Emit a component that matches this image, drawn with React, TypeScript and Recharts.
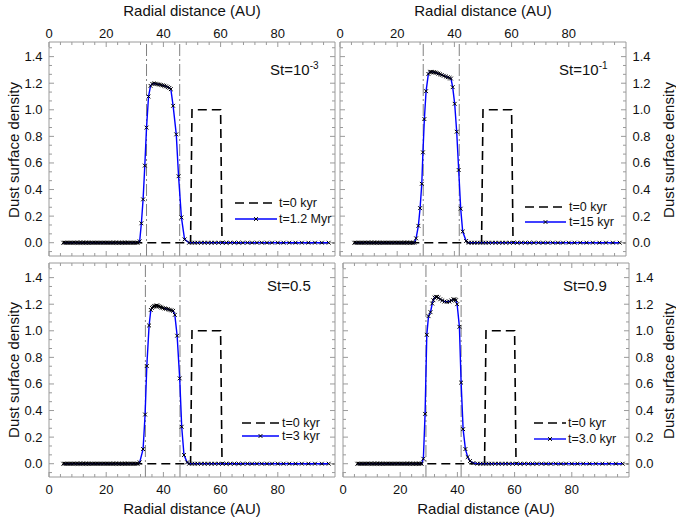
import React from "react";
import { Line, LineChart, ReferenceLine, XAxis, YAxis } from "recharts";

/* -------------------------------------------------------------------------- */
/*  Data                                                                       */
/* -------------------------------------------------------------------------- */

const xMajorTicks = [0, 20, 40, 60, 80];
const yMajorTicks = [0, 0.2, 0.4, 0.6, 0.8, 1.0, 1.2, 1.4];

// radial sample positions (AU) where the evolved profile sits on the floor
const innerRadii = [
  5, 5.5, 6, 6.5, 7, 7.5, 8, 8.5, 9, 9.5, 10, 10.5, 11, 11.5, 12, 12.5, 13,
  13.5, 14, 14.5, 15, 15.5, 16, 16.5, 17, 17.5, 18, 18.5, 19, 19.5, 20, 20.5,
  21, 21.5, 22, 22.5, 23, 23.5, 24, 24.5, 25, 25.5, 26, 26.5, 27, 27.5, 28,
  28.5, 29, 29.5, 30, 30.5, 31,
];
const outerRadii = [
  45, 46, 47, 48, 49, 50, 51, 52, 53.2, 54.4, 55.6, 56.8, 58, 59.3, 60.6, 62,
  63.4, 64.8, 66.3, 67.8, 69.4, 71, 72.7, 74.4, 76.2, 78, 80, 82, 84, 86.2,
  88.4, 90.7, 93, 95.4, 97.8,
];

// t = 0 ring (same in every panel)
const initialRing: [number, number][] = [
  [5, 0], [49.5, 0], [50, 1], [60, 1], [60.5, 0], [100, 0],
];

// evolved rings [r, sigma]
const profileSt1e3: [number, number][] = [
  [31.7, 0.01], [32.3, 0.146], [32.9, 0.326], [33.5, 0.58], [34.1, 0.866],
  [34.8, 1.1], [35.5, 1.18], [36.1, 1.195], [36.7, 1.198], [37.3, 1.196],
  [37.9, 1.193], [38.5, 1.19], [39.1, 1.187], [39.7, 1.184], [40.3, 1.18],
  [40.9, 1.176], [41.5, 1.17], [42.1, 1.165], [42.6, 1.155], [43.4, 1.03],
  [44.5, 0.815], [45.3, 0.5], [46.3, 0.19], [47.4, 0.025],
];
const profileSt1e1: [number, number][] = [
  [26.6, 0.033], [27.4, 0.127], [28.0, 0.26], [28.6, 0.443], [29.0, 0.68],
  [29.5, 0.93], [30.1, 1.14], [30.9, 1.27], [31.4, 1.283], [31.8, 1.286],
  [32.3, 1.285], [32.8, 1.283], [33.3, 1.28], [33.8, 1.277], [34.4, 1.272],
  [35.0, 1.267], [35.6, 1.262], [36.3, 1.256], [37.0, 1.25], [37.7, 1.245],
  [38.3, 1.24], [38.8, 1.235], [39.4, 1.17], [40.1, 1.045], [40.8, 0.835],
  [41.5, 0.547], [42.2, 0.256], [42.9, 0.084], [44.1, 0.013],
];
const profileSt05: [number, number][] = [
  [31.7, 0.01], [32.9, 0.11], [33.6, 0.37], [34.2, 0.735], [35.0, 1.04],
  [35.6, 1.157], [36.0, 1.172], [36.4, 1.18], [36.8, 1.185], [37.2, 1.188],
  [37.6, 1.19], [38.0, 1.188], [38.4, 1.184], [38.8, 1.18], [39.3, 1.176],
  [39.8, 1.172], [40.4, 1.168], [41.0, 1.165], [41.6, 1.162], [42.2, 1.158],
  [42.8, 1.154], [43.4, 1.15], [44.0, 1.12], [44.8, 0.963], [45.7, 0.642],
  [46.4, 0.278], [47.2, 0.065], [48.3, 0.01],
];
const profileSt09: [number, number][] = [
  [28.1, 0.037], [28.7, 0.375], [29.3, 0.97], [29.9, 1.11], [30.6, 1.14],
  [31.2, 1.205], [31.6, 1.23], [32.0, 1.25], [32.5, 1.256], [32.9, 1.255],
  [33.4, 1.248], [34.0, 1.237], [34.7, 1.228], [35.5, 1.22], [36.3, 1.218],
  [37.2, 1.22], [37.9, 1.228], [38.6, 1.237], [39.1, 1.236], [39.5, 1.23],
  [39.9, 1.2], [40.7, 1.03], [41.3, 0.61], [42.0, 0.26], [42.8, 0.11],
  [43.6, 0.05], [44.4, 0.02], [45.6, 0.005],
];

// dash-dot guides marking the ring edges
const edgesSt1e3 = [34.1, 45.7];
const edgesSt1e1 = [29.1, 41.7];
const edgesSt05 = [33.7, 45.8];
const edgesSt09 = [29.0, 41.3];

/* -------------------------------------------------------------------------- */
/*  Helpers                                                                    */
/* -------------------------------------------------------------------------- */

const FONT = '"Liberation Sans", Arial, sans-serif';
const FRAME = "#9a9a9a";
const PLOT_W = 286;
const PLOT_H = 214;
const PAD = 30;
const Y_DOMAIN: [number, number] = [-0.1, 1.51];

const xTicks: number[] = [];
for (let v = 0; v <= 96; v += 4) xTicks.push(v);
const yTicks: number[] = [];
for (let k = -1; k <= 22; k++) yTicks.push(k / 15);

const isMajorY = (v: number) => Math.abs(v * 5 - Math.round(v * 5)) < 1e-6;

function buildSeries(profile: [number, number][], xMax: number) {
  const first = profile[0][0];
  const last = profile[profile.length - 1][0];
  return [
    ...innerRadii.filter((r) => r < first - 0.4).map((r) => ({ x: r, y: 0 })),
    ...profile.map(([x, y]) => ({ x, y })),
    ...outerRadii.filter((r) => r > last + 0.6 && r <= xMax).map((r) => ({ x: r, y: 0 })),
  ];
}

const ringData = initialRing.map(([x, y]) => ({ x, y }));

type Side = "top" | "bottom" | "left" | "right";

function makeTick(side: Side, showLabel: boolean) {
  return (props: any) => {
    const { x, y, payload, index } = props;
    const v = payload.value as number;
    const horizontal = side === "top" || side === "bottom";
    const major = horizontal ? xMajorTicks.includes(v) : isMajorY(v);
    const len = major ? 5 : 3;
    let l = [x, y, x, y];
    let label: React.ReactNode = null;
    const txt = horizontal ? String(v) : v.toFixed(1);
    const tp = { fontSize: 13, fontFamily: FONT, fill: "#111" };
    if (side === "bottom") {
      l = [x, y, x, y - len];
      label = <text x={x} y={y + 16.5} textAnchor="middle" {...tp}>{txt}</text>;
    } else if (side === "top") {
      l = [x, y, x, y + len];
      label = <text x={x} y={y - 4.5} textAnchor="middle" {...tp}>{txt}</text>;
    } else if (side === "left") {
      l = [x, y, x + len, y];
      label = <text x={x - 6.5} y={y + 4.5} textAnchor="end" {...tp}>{txt}</text>;
    } else {
      l = [x, y, x - len, y];
      label = <text x={x + 6.5} y={y + 4.5} textAnchor="start" {...tp}>{txt}</text>;
    }
    const showText = showLabel && (horizontal ? xMajorTicks.includes(v) : major && v > -0.01);
    return (
      <g key={`${side}-${index}`}>
        <line x1={l[0]} y1={l[1]} x2={l[2]} y2={l[3]} stroke={FRAME} strokeWidth={1} />
        {showText && label}
      </g>
    );
  };
}

const renderCross = (props: any) => {
  const { cx, cy, index } = props;
  if (cx == null || cy == null) return <g key={index} />;
  const s = 1.9;
  return (
    <path
      key={index}
      d={`M${cx - s},${cy - s}L${cx + s},${cy + s}M${cx - s},${cy + s}L${cx + s},${cy - s}`}
      stroke="#000"
      strokeWidth={1}
      fill="none"
    />
  );
};

/* -------------------------------------------------------------------------- */
/*  Panel                                                                      */
/* -------------------------------------------------------------------------- */

interface PanelProps {
  left: number;
  top: number;
  domain: [number, number];
  profile: [number, number][];
  edges: number[];
  topLabels: boolean;
  bottomLabels: boolean;
  leftLabels: boolean;
  rightLabels: boolean;
}

function Panel(p: PanelProps) {
  const series = buildSeries(p.profile, p.domain[1]);
  const axisLine = { stroke: FRAME, strokeWidth: 1 };
  return (
    <div style={{ position: "absolute", left: p.left - PAD, top: p.top - PAD }}>
      <LineChart
        width={PLOT_W + 2 * PAD}
        height={PLOT_H + 2 * PAD}
        margin={{ top: 0, right: 0, bottom: 0, left: 0 }}
      >
        <XAxis
          xAxisId="b"
          orientation="bottom"
          type="number"
          dataKey="x"
          domain={p.domain}
          allowDataOverflow
          ticks={xTicks}
          interval={0}
          height={PAD}
          tickSize={0}
          tickMargin={0}
          axisLine={axisLine}
          tickLine={false}
          tick={makeTick("bottom", p.bottomLabels)}
        />
        <XAxis
          xAxisId="t"
          orientation="top"
          type="number"
          dataKey="x"
          domain={p.domain}
          allowDataOverflow
          ticks={xTicks}
          interval={0}
          height={PAD}
          tickSize={0}
          tickMargin={0}
          axisLine={axisLine}
          tickLine={false}
          tick={makeTick("top", p.topLabels)}
        />
        <YAxis
          yAxisId="l"
          orientation="left"
          type="number"
          domain={Y_DOMAIN}
          allowDataOverflow
          ticks={yTicks}
          interval={0}
          width={PAD}
          tickSize={0}
          tickMargin={0}
          axisLine={axisLine}
          tickLine={false}
          tick={makeTick("left", p.leftLabels)}
        />
        <YAxis
          yAxisId="r"
          orientation="right"
          type="number"
          domain={Y_DOMAIN}
          allowDataOverflow
          ticks={yTicks}
          interval={0}
          width={PAD}
          tickSize={0}
          tickMargin={0}
          axisLine={axisLine}
          tickLine={false}
          tick={makeTick("right", p.rightLabels)}
        />
        {p.edges.map((e) => (
          <ReferenceLine
            key={e}
            xAxisId="b"
            yAxisId="l"
            x={e}
            stroke="#808080"
            strokeWidth={1}
            strokeDasharray="12 3 2 3"
          />
        ))}
        <Line
          xAxisId="b"
          yAxisId="l"
          data={ringData}
          dataKey="y"
          type="linear"
          stroke="#000"
          strokeWidth={1.6}
          strokeDasharray="9 5"
          dot={false}
          activeDot={false}
          isAnimationActive={false}
        />
        <Line
          xAxisId="b"
          yAxisId="l"
          data={series}
          dataKey="y"
          type="linear"
          stroke="#0000ff"
          strokeWidth={1.4}
          dot={renderCross}
          activeDot={false}
          isAnimationActive={false}
        />
      </LineChart>
    </div>
  );
}

/* -------------------------------------------------------------------------- */
/*  Overlay text                                                               */
/* -------------------------------------------------------------------------- */

function Legend2({
  x, y1, y2, w, textX, label,
}: { x: number; y1: number; y2: number; w: number; textX: number; label: string }) {
  const txt: React.CSSProperties = {
    position: "absolute", left: textX, fontSize: 12.5, lineHeight: "16px",
    fontFamily: FONT, whiteSpace: "nowrap", color: "#111",
  };
  return (
    <>
      <svg style={{ position: "absolute", left: x, top: y1 - 5 }} width={w} height={10}>
        <line x1={0} y1={5} x2={w} y2={5} stroke="#000" strokeWidth={1.6} strokeDasharray="9 5" />
      </svg>
      <div style={{ ...txt, top: y1 - 8 }}>t=0 kyr</div>
      <svg style={{ position: "absolute", left: x, top: y2 - 5 }} width={w} height={10}>
        <line x1={0} y1={5} x2={w} y2={5} stroke="#0000ff" strokeWidth={1.4} />
        <path
          d={`M${w / 2 - 1.9},3.1L${w / 2 + 1.9},6.9M${w / 2 - 1.9},6.9L${w / 2 + 1.9},3.1`}
          stroke="#000"
          strokeWidth={1}
        />
      </svg>
      <div style={{ ...txt, top: y2 - 8 }}>{label}</div>
    </>
  );
}

function Abs({ x, y, size, rotate, center, children }: any) {
  return (
    <div
      style={{
        position: "absolute",
        left: x,
        top: y,
        transform: `${center ? "translate(-50%,-50%)" : "translate(0,-50%)"}${rotate ? " rotate(-90deg)" : ""}`,
        fontSize: size,
        fontFamily: FONT,
        whiteSpace: "nowrap",
        lineHeight: 1,
        color: "#111",
      }}
    >
      {children}
    </div>
  );
}

const sup: React.CSSProperties = { fontSize: 10, position: "relative", top: -6 };

export default function App() {
  return (
    <div
      style={{
        position: "absolute",
        left: 0,
        top: 0,
        width: 676,
        height: 522,
        background: "#fff",
        overflow: "hidden",
      }}
    >
      <Panel left={49} top={42} domain={[0, 100]} profile={profileSt1e3} edges={edgesSt1e3}
        topLabels bottomLabels={false} leftLabels rightLabels={false} />
      <Panel left={340} top={42} domain={[0, 100]} profile={profileSt1e1} edges={edgesSt1e1}
        topLabels bottomLabels={false} leftLabels={false} rightLabels />
      <Panel left={49} top={263} domain={[0, 100]} profile={profileSt05} edges={edgesSt05}
        topLabels={false} bottomLabels leftLabels rightLabels={false} />
      <Panel left={343} top={263} domain={[0, 100]} profile={profileSt09} edges={edgesSt09}
        topLabels={false} bottomLabels leftLabels={false} rightLabels />

      <Abs x={192} y={10} size={15} center>Radial distance (AU)</Abs>
      <Abs x={483} y={10} size={15} center>Radial distance (AU)</Abs>
      <Abs x={192} y={508} size={15} center>Radial distance (AU)</Abs>
      <Abs x={486} y={508} size={15} center>Radial distance (AU)</Abs>

      <Abs x={13} y={150} size={15} center rotate>Dust surface density</Abs>
      <Abs x={13} y={370} size={15} center rotate>Dust surface density</Abs>
      <Abs x={668} y={150} size={15} center rotate>Dust surface density</Abs>
      <Abs x={668} y={371} size={15} center rotate>Dust surface density</Abs>

      <Abs x={270} y={69} size={15}>St=10<span style={sup}>-3</span></Abs>
      <Abs x={559} y={69} size={15}>St=10<span style={sup}>-1</span></Abs>
      <Abs x={267} y={285} size={15}>St=0.5</Abs>
      <Abs x={563} y={285} size={15}>St=0.9</Abs>

      <Legend2 x={235} y1={203} y2={218.5} w={42} textX={279} label="t=1.2 Myr" />
      <Legend2 x={525} y1={207} y2={222} w={41} textX={569} label="t=15 kyr" />
      <Legend2 x={242} y1={423} y2={436} w={37} textX={282} label="t=3 kyr" />
      <Legend2 x={534} y1={423} y2={438.5} w={32} textX={568} label="t=3.0 kyr" />
    </div>
  );
}
